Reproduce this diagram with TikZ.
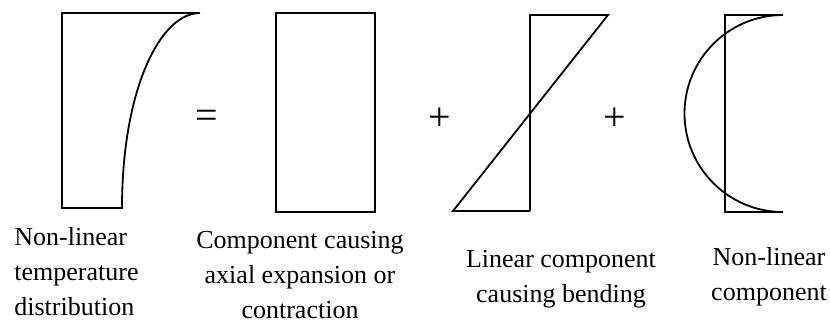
\documentclass[tikz,border=0pt]{standalone}
\usepackage{fontspec}
\setmainfont{Liberation Serif}
\usepackage{tikz}
\usetikzlibrary{positioning}

\begin{document}
\begin{tikzpicture}[
  x=0.5pt, y=0.5pt,
  every node/.style={font=\fontsize{13}{17.5}\selectfont},
  profile/.style={draw, line width=0.9pt, line join=miter},
  caption/.style={inner sep=0pt, align=center},
  op/.style={inner sep=0pt, font=\fontsize{20}{24}\selectfont}
]
\useasboundingbox (0,0) rectangle (830,329);
%% total temperature profile
\draw[profile] (200,316) -- (62,316) -- (62,121) -- (122,121)
  .. controls (122,239) and (160,316) .. (200,316);
\node[op] (eq) at (207,210) {=};
%% uniform part
\draw[profile] (276,117) rectangle (375,316);
\node[op] (plusA) at (440,210) {+};
%% linear part
\draw[profile] (530,118) -- (530,314) -- (608,314) -- (453,118) -- (530,118);
\node[op] (plusB) at (615,210) {+};
%% remaining non-linear part
\draw[profile] (783,314) -- (725,314) -- (725,117) -- (783,117);
\draw[profile] (783,314) arc[start angle=90, end angle=270, radius=98.5];
%% captions (base = last line)
\node[caption, align=left, anchor=base west] (capTotal) at (14,14)
  {Non-linear\\temperature\\distribution};
\node[caption, anchor=base] (capAxial) at (300,11)
  {Component causing\\axial expansion or\\contraction};
\node[caption, anchor=base] (capBend) at (561,27)
  {Linear component\\causing bending};
\node[caption, anchor=base] (capRest) at (769,29)
  {Non-linear\\component};
\end{tikzpicture}
\end{document}
